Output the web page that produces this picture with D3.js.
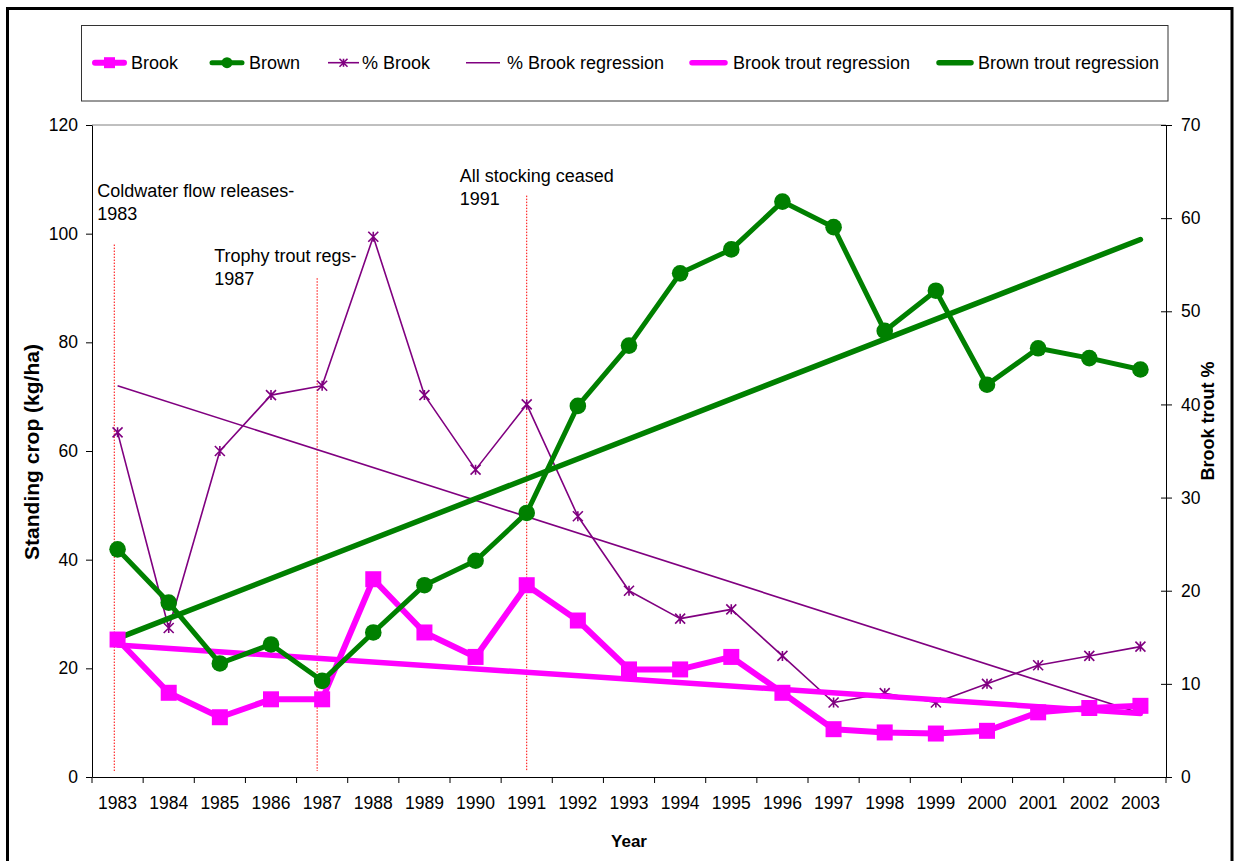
<!DOCTYPE html>
<html>
<head>
<meta charset="utf-8">
<script src="https://cdn.jsdelivr.net/npm/d3@7"></script>
<style>
body { margin: 0; background: #fff; }
text { font-family: "Liberation Sans", Arial, sans-serif; fill: #000; }
</style>
</head>
<body>
<div class="canvas"></div>
<script>
//values
const years = ['1983', '1984', '1985', '1986', '1987', '1988', '1989', '1990', '1991', '1992', '1993',
    '1994', '1995', '1996', '1997', '1998', '1999', '2000', '2001', '2002', '2003'];
const brook = [25.3, 15.5, 11.0, 14.3, 14.3, 36.4, 26.6, 22.1, 35.3, 28.8, 19.8,
    19.8, 22.1, 15.5, 8.8, 8.2, 8.0, 8.5, 11.9, 12.7, 13.1];
const brown = [41.9, 32.1, 20.9, 24.4, 17.7, 26.6, 35.3, 39.8, 48.6, 68.3, 79.4,
    92.7, 97.1, 105.9, 101.2, 82.1, 89.5, 72.2, 78.9, 77.1, 75.0];
const pctBrook = [37, 16, 35, 41, 42, 58, 41, 33, 40, 28, 20,
    17, 18, 13, 8, 9, 8, 10, 12, 13, 14];
const leftTicks = [0, 20, 40, 60, 80, 100, 120];
const rightTicks = [0, 10, 20, 30, 40, 50, 60, 70];
const legendLabels = ['Brook', 'Brown', '% Brook', '% Brook regression', 'Brook trout regression', 'Brown trout regression'];
const eventYears = ['1983', '1987', '1991'];
const eventText = [
    ['Coldwater flow releases-', '1983'],
    ['Trophy trout regs-', '1987'],
    ['All stocking ceased', '1991']
];

//chart dimensions
const dims = { width: 1235, height: 861, left: 92, right: 1166, top: 125, bottom: 777 };

const colors = { brook: '#ff00ff', brown: '#008000', pct: '#800080', event: '#ff0000' };

const svg = d3.select('.canvas')
    .append('svg')
    .attr('width', dims.width)
    .attr('height', dims.height);

//outer frame
svg.append('rect')
    .attr('x', 7.5).attr('y', 8.5)
    .attr('width', 1224.5).attr('height', 900)
    .attr('fill', 'none').attr('stroke', '#000').attr('stroke-width', 3);

//scales
const x = d3.scaleBand().domain(years).range([dims.left, dims.right]);
const cx = yr => x(yr) + x.bandwidth() / 2;
const yL = d3.scaleLinear().domain([0, 120]).range([dims.bottom, dims.top]);
const yR = d3.scaleLinear().domain([0, 70]).range([dims.bottom, dims.top]);

//least squares trend, returns values at first and last year
const trend = vals => {
    const n = vals.length, mx = (n - 1) / 2, my = d3.mean(vals);
    let sxy = 0, sxx = 0;
    vals.forEach((v, i) => { sxy += (i - mx) * (v - my); sxx += (i - mx) ** 2; });
    const b = sxy / sxx;
    return [my - b * mx, my + b * (n - 1 - mx)];
};
const ends = [years[0], years[years.length - 1]];

//top border of plot area
svg.append('line')
    .attr('x1', dims.left).attr('x2', dims.right)
    .attr('y1', dims.top).attr('y2', dims.top)
    .attr('stroke', '#808080');

//axes
const axisFont = g => g.selectAll('text').attr('font-size', 17.5).attr('fill', '#000')
    .style('font-family', '"Liberation Sans", Arial, sans-serif');

svg.append('g')
    .attr('transform', `translate(${dims.left},0)`)
    .call(d3.axisLeft(yL).tickValues(leftTicks).tickSize(6).tickSizeOuter(0).tickPadding(8))
    .call(axisFont)
    .call(g => g.select('.domain').attr('stroke', '#000'));

svg.append('g')
    .attr('transform', `translate(${dims.right},0)`)
    .call(d3.axisRight(yR).tickValues(rightTicks).tickSize(6).tickSizeOuter(0).tickPadding(9))
    .call(axisFont)
    .call(g => g.selectAll('.tick line').attr('x1', -5).attr('x2', 6));

//category axis: labels at band centres, ticks at band edges
const xAxis = svg.append('g')
    .attr('transform', `translate(0,${dims.bottom})`)
    .call(d3.axisBottom(x).tickSize(0).tickSizeOuter(0).tickPadding(20))
    .call(axisFont);
xAxis.selectAll('.edge')
    .data(years.concat(['end']))
    .enter().append('line')
        .attr('class', 'edge')
        .attr('x1', (d, i) => dims.left + i * x.bandwidth())
        .attr('x2', (d, i) => dims.left + i * x.bandwidth())
        .attr('y1', 0).attr('y2', 6)
        .attr('stroke', '#000');

//axis titles
svg.append('text')
    .attr('transform', `translate(39, ${(dims.top + dims.bottom) / 2 + 1}) rotate(-90)`)
    .attr('text-anchor', 'middle')
    .attr('font-weight', 'bold').attr('font-size', 21)
    .text('Standing crop (kg/ha)');

svg.append('text')
    .attr('transform', `translate(1214, 421) rotate(-90)`)
    .attr('text-anchor', 'middle')
    .attr('font-weight', 'bold').attr('font-size', 18)
    .text('Brook trout %');

svg.append('text')
    .attr('x', (dims.left + dims.right) / 2).attr('y', 847)
    .attr('text-anchor', 'middle')
    .attr('font-weight', 'bold').attr('font-size', 17)
    .text('Year');

//event markers (red dotted lines and notes)
const eventLayout = [
    { dx: -3.3, top: 98, tx: -17, ty: 197 },
    { dx: -5, top: 91.8, tx: -103, ty: 262 },
    { dx: 0, top: 107, tx: -67, ty: 182 }
];
eventYears.forEach((yr, i) => {
    const lay = eventLayout[i];
    const ex = cx(yr) + lay.dx;
    svg.append('line')
        .attr('x1', ex).attr('x2', ex)
        .attr('y1', yL(lay.top)).attr('y2', yL(1.1))
        .attr('stroke', colors.event).attr('stroke-width', 1)
        .attr('stroke-dasharray', '1.5,1.5');
    const t = svg.append('text')
        .attr('font-size', 18);
    eventText[i].forEach((line, k) => {
        t.append('tspan')
            .attr('x', ex + lay.tx)
            .attr('y', lay.ty + k * 23)
            .text(line);
    });
});

//line generators
const lineL = d3.line().x((d, i) => cx(years[i])).y(d => yL(d));
const lineR = d3.line().x((d, i) => cx(years[i])).y(d => yR(d));
const trendL = d3.line().x((d, i) => cx(ends[i])).y(d => yL(d));
const trendR = d3.line().x((d, i) => cx(ends[i])).y(d => yR(d));

const star = s => `M${-s},${-s}L${s},${s}M${-s},${s}L${s},${-s}M0,${-s}L0,${s}`;

const plot = svg.append('g');

//% brook series (secondary axis)
plot.append('path')
    .attr('d', trendR(trend(pctBrook)))
    .attr('fill', 'none').attr('stroke', colors.pct).attr('stroke-width', 1.6);

plot.append('path')
    .attr('d', lineR(pctBrook))
    .attr('fill', 'none').attr('stroke', colors.pct).attr('stroke-width', 1.6)
    .attr('stroke-linejoin', 'round');

plot.selectAll('.star')
    .data(pctBrook)
    .enter().append('path')
        .attr('class', 'star')
        .attr('transform', (d, i) => `translate(${cx(years[i])},${yR(d)})`)
        .attr('d', star(5))
        .attr('stroke', colors.pct).attr('stroke-width', 1.6).attr('fill', 'none');

//regressions
plot.append('path')
    .attr('d', trendL(trend(brook)))
    .attr('fill', 'none').attr('stroke', colors.brook).attr('stroke-width', 5.5)
    .attr('stroke-linecap', 'round');

plot.append('path')
    .attr('d', trendL(trend(brown)))
    .attr('fill', 'none').attr('stroke', colors.brown).attr('stroke-width', 5.5)
    .attr('stroke-linecap', 'round');

//brook
plot.append('path')
    .attr('d', lineL(brook))
    .attr('fill', 'none').attr('stroke', colors.brook).attr('stroke-width', 6)
    .attr('stroke-linejoin', 'round');

plot.selectAll('.sq')
    .data(brook)
    .enter().append('rect')
        .attr('class', 'sq')
        .attr('x', (d, i) => cx(years[i]) - 8)
        .attr('y', d => yL(d) - 8)
        .attr('width', 16).attr('height', 16)
        .attr('fill', colors.brook);

//brown
plot.append('path')
    .attr('d', lineL(brown))
    .attr('fill', 'none').attr('stroke', colors.brown).attr('stroke-width', 5)
    .attr('stroke-linejoin', 'round');

plot.selectAll('.dot')
    .data(brown)
    .enter().append('circle')
        .attr('class', 'dot')
        .attr('cx', (d, i) => cx(years[i]))
        .attr('cy', d => yL(d))
        .attr('r', 8.3)
        .attr('fill', colors.brown);

//legend
const legend = svg.append('g');
legend.append('rect')
    .attr('x', 81.5).attr('y', 25.5)
    .attr('width', 1086.5).attr('height', 75.5)
    .attr('fill', '#fff').attr('stroke', '#333').attr('stroke-width', 1);

const legendLayout = [
    { x0: 95, x1: 124, tx: 131, color: colors.brook, w: 6, mark: 'square' },
    { x0: 212, x1: 242, tx: 249, color: colors.brown, w: 5, mark: 'circle' },
    { x0: 328, x1: 359, tx: 362, color: colors.pct, w: 1.6, mark: 'star' },
    { x0: 466, x1: 500, tx: 507, color: colors.pct, w: 1.6, mark: null },
    { x0: 692, x1: 725, tx: 733, color: colors.brook, w: 5.5, mark: null },
    { x0: 939, x1: 971, tx: 978, color: colors.brown, w: 5.5, mark: null }
];
const ly = 62.7;
legendLabels.forEach((label, i) => {
    const l = legendLayout[i];
    legend.append('line')
        .attr('x1', l.x0).attr('x2', l.x1).attr('y1', ly).attr('y2', ly)
        .attr('stroke', l.color).attr('stroke-width', l.w)
        .attr('stroke-linecap', l.w > 2 ? 'round' : 'butt');
    const mx = (l.x0 + l.x1) / 2;
    if (l.mark === 'square') {
        legend.append('rect').attr('x', mx - 5.5).attr('y', ly - 5.5)
            .attr('width', 11).attr('height', 11).attr('fill', l.color);
    } else if (l.mark === 'circle') {
        legend.append('circle').attr('cx', mx).attr('cy', ly).attr('r', 5.5).attr('fill', l.color);
    } else if (l.mark === 'star') {
        legend.append('path').attr('transform', `translate(${mx},${ly})`)
            .attr('d', star(4)).attr('stroke', l.color).attr('stroke-width', 1.6);
    }
    legend.append('text')
        .attr('x', l.tx).attr('y', ly + 6.5)
        .attr('font-size', 18)
        .text(label);
});
</script>
</body>
</html>
